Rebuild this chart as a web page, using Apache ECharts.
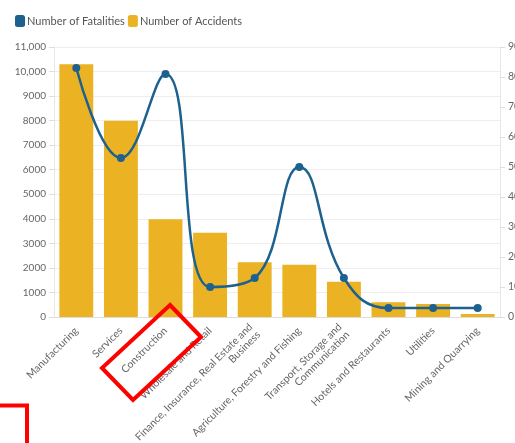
<!DOCTYPE html>
<html>
<head>
<meta charset="utf-8">
<script src="https://cdn.jsdelivr.net/npm/echarts@6/dist/echarts.min.js"></script>
<style>
html,body{margin:0;padding:0;overflow:hidden;background:#fff;width:515px;height:443px;}
#c{width:532px;height:443px;}
</style>
</head>
<body>
<div id="c"></div>
<script>
const categories = ["Manufacturing","Services","Construction","Wholesale and Retail","Finance, Insurance, Real Estate and\nBusiness","Agriculture, Forestry and Fishing","Transport, Storage and\nCommunication","Hotels and Restaurants","Utilities","Mining and Quarrying"];
const accidents = [10300, 8000, 3980, 3430, 2230, 2130, 1440, 600, 530, 120];
const fatalities = [83, 53, 81, 10, 13, 50, 13, 3, 3, 3];
const leftTicks = {min:0, max:11000, interval:1000};
const rightTicks = {min:0, max:90, interval:10};

const chart = echarts.init(document.getElementById('c'), null, {renderer:'canvas'});
const font = 'Lato, "Open Sans", sans-serif';
chart.setOption({
  animation:false,
  textStyle:{fontFamily:font},
  legend:{
    left:10, top:10, itemWidth:10, itemHeight:12, itemGap:3, icon:'roundRect',
    textStyle:{color:'#555', fontSize:11, fontFamily:font, padding:[0,0,0,-3]},
    data:['Number of Fatalities','Number of Accidents']
  },
  grid:{left:54, right:32, top:47, bottom:126, containLabel:false, outerBoundsMode:'none'},
  xAxis:{
    type:'category', data:categories,
    axisLine:{lineStyle:{color:'#ddd'}},
    axisTick:{alignWithLabel:true, lineStyle:{color:'#ccc'}, length:4},
    axisLabel:{rotate:45, interval:0, color:'#666', fontSize:10.5, fontFamily:font, margin:12}
  },
  yAxis:[{
    type:'value', min:leftTicks.min, max:leftTicks.max, interval:leftTicks.interval,
    axisLine:{show:true, lineStyle:{color:'#e6e6e6'}},
    axisTick:{show:true, length:5, lineStyle:{color:'#ddd'}},
    splitLine:{lineStyle:{color:'#eee'}},
    axisLabel:{color:'#666', fontSize:10, fontFamily:font, margin:8,
      formatter:v=> v>=10000 ? v.toLocaleString('en-US') : String(v)}
  },{
    type:'value', min:rightTicks.min, max:rightTicks.max, interval:rightTicks.interval,
    axisLine:{show:true, lineStyle:{color:'#e6e6e6'}},
    axisTick:{show:true, length:5, lineStyle:{color:'#ddd'}},
    splitLine:{show:false},
    axisLabel:{color:'#666', fontSize:10.5, fontFamily:font, margin:8}
  }],
  series:[{
    name:'Number of Fatalities', type:'line', yAxisIndex:1, data:fatalities,
    smooth:0.45, symbol:'circle', symbolSize:8, z:5,
    itemStyle:{color:'#1d6190'}, lineStyle:{color:'#1d6190', width:2.5}
  },{
    name:'Number of Accidents', type:'bar', yAxisIndex:0, data:accidents,
    barCategoryGap:'24%', z:2,
    itemStyle:{color:'#ebb323'}
  }],
  graphic:[{
    type:'polygon', z:100,
    shape:{points:[[170,305],[201,337],[133,400],[102,368]]},
    style:{fill:'none', stroke:'#ff0000', lineWidth:4}
  },{
    type:'polyline', z:100,
    shape:{points:[[-5,405.5],[27,405.5],[27,450]]},
    style:{fill:'none', stroke:'#ff0000', lineWidth:4}
  }]
});
</script>
</body>
</html>
